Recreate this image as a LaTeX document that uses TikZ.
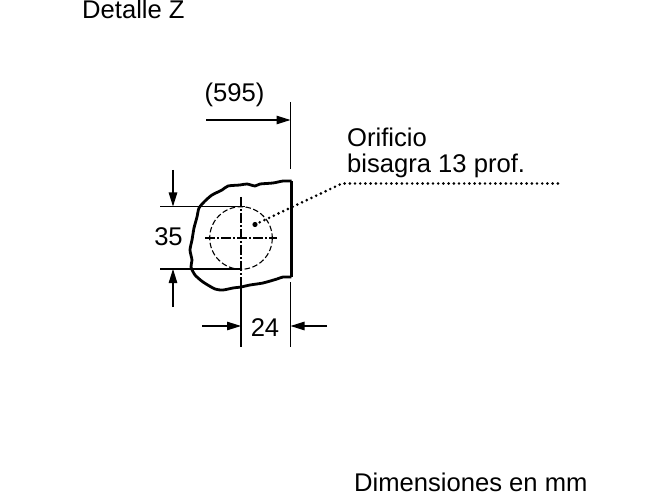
\documentclass[tikz,border=0pt]{standalone}
\usepackage{fontspec}
\setmainfont{Liberation Sans}
\usetikzlibrary{arrows.meta}
\tikzset{
    dimline/.style={line width=1.1pt},
    dimarrow/.style={dimline, -{Triangle[length=14pt,width=8.5pt]}},
    centerline/.style={line width=1.1pt, dash pattern=on 10pt off 2pt on 2pt off 2pt},
    holeline/.style={line width=1.1pt, dash pattern=on 5.5pt off 2.5pt},
    edgeline/.style={line width=2.8pt, line join=round},
    leaderline/.style={line width=2.9pt, line cap=round, dash pattern=on 0pt off 5.2pt},
    label/.style={font=\fontsize{25.6}{26}\selectfont, inner sep=0pt}
}
\begin{document}
\begin{tikzpicture}[x=1pt, y=-1pt]
    \useasboundingbox (0,0) rectangle (670,500);
    \node[label, anchor=base west] (title) at (82,19) {Detalle Z};
    \node[label, anchor=base west] (units) at (354,491) {Dimensiones en mm};
    \node[label, anchor=base west] (hole1) at (347,147) {Orificio};
    \node[label, anchor=base west] (hole2) at (347,173) {bisagra 13 prof.};
    \node[label, anchor=base] (depth) at (234.5,102) {(595)};
    \node[label, anchor=base] (height) at (168.5,246) {35};
    \node[label, anchor=base] (width) at (265,336) {24};
    % contorno
    \coordinate (TR) at (291.5,181);
    \coordinate (BR) at (291.5,277);
    \draw[edgeline] (TR) -- (BR);
    \draw[edgeline] plot[smooth, tension=0.4] coordinates {(BR) (283,277) (277,279) (263,283) (250,285) (241,287)
        (233,288) (223,290) (215,289) (203,282) (195,275) (191,267) (192,260) (190,250) (192,240) (194,228) (197,217)
        (199,208) (205,201) (212,195) (222,190) (228,186) (240,185) (247,184) (255,186) (260,184) (273,183) (283,181) (TR)};
    % foro
    \coordinate (C) at (241,238);
    \draw[holeline] (C) circle (31.3);
    \coordinate (CL) at (205,238);
    \coordinate (CR) at (277,238);
    \coordinate (CT) at (241,197);
    \coordinate (CB) at (241,285);
    \draw[centerline] (CL) -- (CR);
    \draw[centerline] (CT) -- (CB);
    % rinvio
    \coordinate (P) at (255,224.5);
    \coordinate (Q) at (342,183.5);
    \coordinate (R) at (560,183.5);
    \fill (P) circle (2.6);
    \draw[leaderline] (P) -- (Q) -- (R);
    % quota 595
    \coordinate (A1) at (290.5,102);
    \coordinate (A2) at (290.5,169);
    \coordinate (A3) at (206,120);
    \coordinate (A4) at (290.5,120);
    \draw[dimline] (A1) -- (A2);
    \draw[dimarrow] (A3) -- (A4);
    % quota 35
    \coordinate (B1) at (160,206.5);
    \coordinate (B2) at (245,206.5);
    \coordinate (B3) at (160,269);
    \coordinate (B4) at (241,269);
    \coordinate (B5) at (173,170);
    \coordinate (B6) at (173,206.5);
    \coordinate (B7) at (173,307);
    \coordinate (B8) at (173,269);
    \draw[dimline] (B1) -- (B2);
    \draw[dimline] (B3) -- (B4);
    \draw[dimarrow] (B5) -- (B6);
    \draw[dimarrow] (B7) -- (B8);
    % quota 24
    \coordinate (D1) at (241,285);
    \coordinate (D2) at (241,347);
    \coordinate (D3) at (290.5,282);
    \coordinate (D4) at (290.5,347);
    \coordinate (D5) at (202,326);
    \coordinate (D6) at (241,326);
    \coordinate (D7) at (327,326);
    \coordinate (D8) at (290.5,326);
    \draw[dimline] (D1) -- (D2);
    \draw[dimline] (D3) -- (D4);
    \draw[dimarrow] (D5) -- (D6);
    \draw[dimarrow] (D7) -- (D8);
\end{tikzpicture}
\end{document}
